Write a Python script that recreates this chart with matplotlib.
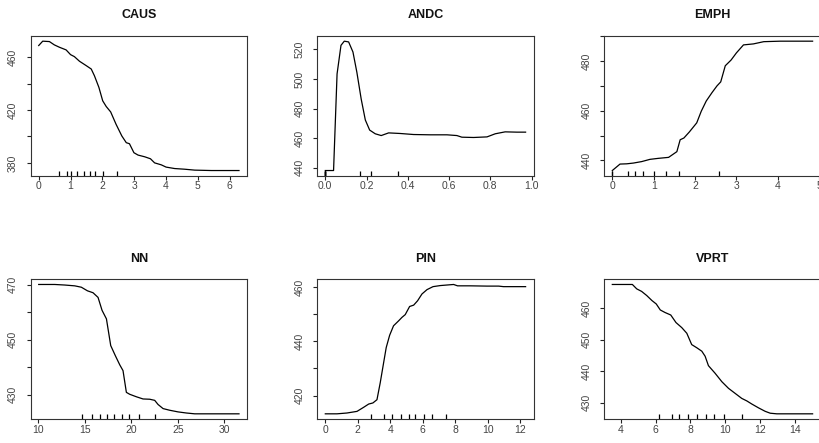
import matplotlib
matplotlib.use("Agg")
import matplotlib.pyplot as plt
import numpy as np

plt.rcParams['font.family'] = ['Liberation Sans', 'DejaVu Sans']

# ---------------- data ----------------
titles = ["CAUS", "ANDC", "EMPH", "NN", "PIN", "VPRT"]

caus_x = [0.0, 0.126, 0.336, 0.49, 0.65, 0.86, 1.0, 1.12, 1.28, 1.49, 1.65, 1.75, 1.89, 2.01,
          2.12, 2.26, 2.43, 2.61, 2.75, 2.85, 2.99, 3.12, 3.33, 3.51, 3.64, 3.85, 4.0, 4.27,
          4.58, 4.9, 5.42, 6.29]
caus_y = [468.9, 472.2, 471.9, 469.4, 467.6, 465.6, 462.0, 460.5, 457.0, 453.7, 451.1, 446.0,
          437.2, 427.0, 422.7, 418.6, 409.2, 400.4, 395.3, 394.5, 387.7, 385.9, 384.6, 383.1,
          380.0, 378.5, 376.8, 375.7, 375.2, 374.5, 374.2, 374.2]
caus_rug = [0.63, 0.88, 1.02, 1.21, 1.42, 1.61, 1.78, 2.01, 2.45]

andc_x = [0.0, 0.037, 0.040, 0.057, 0.076, 0.092, 0.113, 0.134, 0.153, 0.174, 0.194, 0.215,
          0.242, 0.271, 0.307, 0.363, 0.428, 0.509, 0.59, 0.638, 0.662, 0.719, 0.784, 0.824,
          0.872, 0.929, 0.971]
andc_y = [438.2, 438.2, 438.2, 503.4, 522.7, 525.5, 525.0, 518.2, 504.5, 486.4, 472.3, 465.5,
          463.0, 461.8, 463.6, 463.2, 462.5, 462.3, 462.3, 461.8, 460.7, 460.5, 460.9, 463.0,
          464.3, 464.1, 464.1]
andc_rug = [0.0, 0.0, 0.0, 0.0, 0.0, 0.0, 0.166, 0.221, 0.351]

emph_x = [0.0, 0.186, 0.347, 0.508, 0.71, 0.91, 1.11, 1.36, 1.56, 1.64, 1.73, 1.86, 2.04, 2.15,
          2.27, 2.41, 2.53, 2.62, 2.73, 2.87, 3.0, 3.17, 3.41, 3.66, 4.06, 4.84]
emph_y = [435.9, 438.5, 438.6, 438.9, 439.5, 440.4, 440.8, 441.2, 443.5, 448.3, 449.0, 451.4,
          455.1, 459.8, 463.9, 467.3, 470.0, 471.6, 478.1, 480.4, 483.3, 486.5, 486.9, 487.8,
          488.0, 488.0]
emph_rug = [0.0, 0.0, 0.39, 0.56, 0.75, 1.01, 1.3, 1.61, 2.59]

nn_x = [10.07, 11.79, 12.86, 13.94, 14.65, 15.3, 15.9, 16.44, 16.87, 17.34, 17.8, 18.3, 18.77,
        19.12, 19.48, 19.84, 20.55, 21.27, 21.99, 22.52, 22.88, 23.42, 24.13, 25.03, 25.92,
        26.82, 28.6, 31.57]
nn_y = [470.1, 470.1, 469.9, 469.6, 469.1, 467.8, 467.1, 465.4, 460.7, 457.6, 447.9, 444.2,
        440.9, 438.8, 430.9, 430.2, 429.3, 428.5, 428.4, 428.0, 426.5, 425.0, 424.4, 423.8,
        423.4, 423.1, 423.1, 423.1]
nn_rug = [14.76, 15.83, 16.66, 17.41, 18.16, 18.98, 19.73, 20.88, 22.52]

pin_x = [0.0, 0.72, 1.33, 1.95, 2.36, 2.67, 2.93, 3.18, 3.38, 3.59, 3.75, 3.96, 4.2, 4.51, 4.72,
         4.92, 5.19, 5.44, 5.68, 5.95, 6.26, 6.63, 7.08, 7.49, 7.9, 8.14, 8.92, 9.95, 10.67,
         10.97, 12.33]
pin_y = [413.3, 413.3, 413.6, 414.2, 415.7, 416.9, 417.3, 418.5, 424.7, 432.1, 437.7, 442.2,
         445.7, 447.5, 448.8, 449.8, 452.8, 453.3, 454.9, 457.4, 459.0, 460.1, 460.5, 460.7,
         460.9, 460.4, 460.4, 460.3, 460.3, 460.1, 460.1]
pin_rug = [2.81, 3.59, 4.1, 4.66, 5.13, 5.54, 6.05, 6.56, 7.43]

vprt_x = [3.52, 4.67, 4.92, 5.2, 5.49, 5.79, 6.04, 6.27, 6.54, 6.87, 7.17, 7.5, 7.79, 8.07, 8.36,
          8.65, 8.84, 9.03, 9.41, 9.8, 10.18, 10.56, 10.94, 11.23, 11.52, 11.9, 12.28, 12.57,
          12.95, 15.0]
vprt_y = [467.6, 467.6, 466.2, 465.4, 464.1, 462.5, 461.4, 459.5, 458.7, 457.9, 455.5, 453.9,
          452.1, 448.5, 447.5, 446.4, 444.8, 441.8, 439.4, 436.7, 434.6, 433.0, 431.4, 430.6,
          429.6, 428.4, 427.3, 426.7, 426.5, 426.5]
vprt_rug = [6.22, 6.96, 7.35, 7.84, 8.4, 8.88, 9.35, 9.93, 10.94]

xticks = [
    [0, 1, 2, 3, 4, 5, 6],
    [0.0, 0.2, 0.4, 0.6, 0.8, 1.0],
    [0, 1, 2, 3, 4, 5],
    [10, 15, 20, 25, 30],
    [0, 2, 4, 6, 8, 10, 12],
    [4, 6, 8, 10, 12, 14],
]
xticklabels = [
    ["0", "1", "2", "3", "4", "5", "6"],
    ["0.0", "0.2", "0.4", "0.6", "0.8", "1.0"],
    ["0", "1", "2", "3", "4", "5"],
    ["10", "15", "20", "25", "30"],
    ["0", "2", "4", "6", "8", "10", "12"],
    ["4", "6", "8", "10", "12", "14"],
]
yticks = [
    [380, 400, 420, 440, 460],
    [440, 460, 480, 500, 520],
    [440, 450, 460, 470, 480, 490],
    [430, 440, 450, 460, 470],
    [420, 430, 440, 450, 460],
    [430, 440, 450, 460],
]
yticklabels = [
    ["380", "", "420", "", "460"],
    ["440", "460", "480", "500", "520"],
    ["440", "", "460", "", "480", ""],
    ["430", "", "450", "", "470"],
    ["420", "", "440", "", "460"],
    ["430", "440", "450", "460"],
]

series_x = [caus_x, andc_x, emph_x, nn_x, pin_x, vprt_x]
series_y = [caus_y, andc_y, emph_y, nn_y, pin_y, vprt_y]
rugs = [caus_rug, andc_rug, emph_rug, nn_rug, pin_rug, vprt_rug]

# ---------------- layout (pixels) ----------------
W, H = 820, 443
fig = plt.figure(figsize=(W / 100, H / 100), dpi=100)
col_left = [30.7, 317.3, 604.3]
row_top = [36.0, 279.3]
ax_w, ax_h = 216.3, 139.7

tick_color = "#444444"

for i in range(6):
    r, c = divmod(i, 3)
    left = col_left[c]
    top = row_top[r]
    ax = fig.add_axes([left / W, 1 - (top + ax_h) / H, ax_w / W, ax_h / H])
    xs = np.array(series_x[i])
    ys = np.array(series_y[i])
    ax.plot(xs, ys, color="black", lw=0.9)
    xr = xs.max() - xs.min()
    yr = ys.max() - ys.min()
    ax.set_xlim(xs.min() - 0.04 * xr, xs.max() + 0.04 * xr)
    ax.set_ylim(ys.min() - 0.04 * yr, ys.max() + 0.04 * yr)
    # rug (inward ticks)
    ax.vlines(rugs[i], 0, 0.033, transform=ax.get_xaxis_transform(), color="black", lw=0.9)
    ax.set_xticks(xticks[i])
    ax.set_xticklabels(xticklabels[i])
    ax.set_yticks(yticks[i])
    ax.set_yticklabels(yticklabels[i], rotation=90, va="center", ha="right")
    ax.tick_params(axis="both", direction="out", length=3.1, width=0.8,
                   labelsize=7.5, labelcolor=tick_color, color="#222222")
    ax.tick_params(axis="x", pad=1.0)
    ax.tick_params(axis="y", pad=6.0)
    for s in ax.spines.values():
        s.set_linewidth(0.8)
        s.set_color("#333333")
    ax.text(0.5, 1 + 17.5 / ax_h, titles[i], transform=ax.transAxes,
            ha="center", va="baseline", fontsize=9, fontweight="bold", color="#111111")

fig.savefig("out.png", dpi=100)
